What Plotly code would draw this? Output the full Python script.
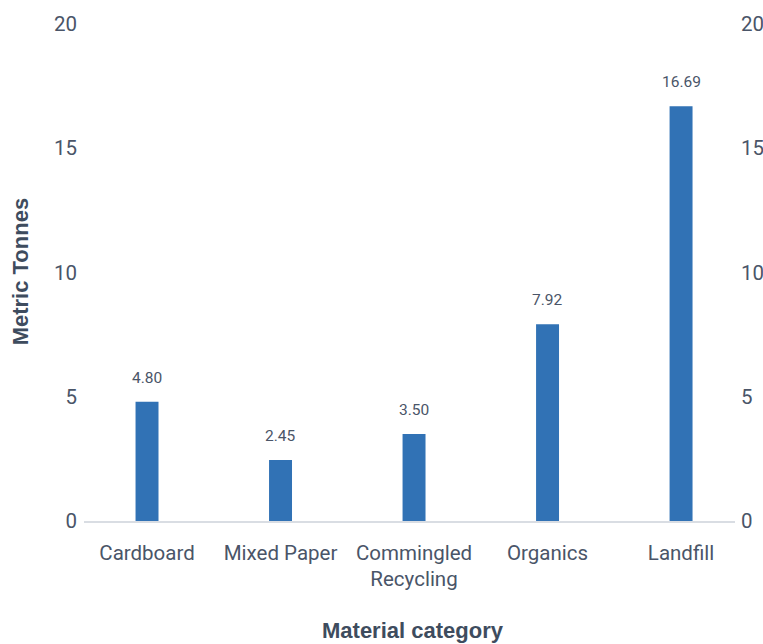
import plotly.graph_objects as go

categories = ["Cardboard", "Mixed Paper", "Commingled<br>Recycling", "Organics", "Landfill"]
tonnes = [4.80, 2.45, 3.50, 7.92, 16.69]
y_ticks = [0, 5, 10, 15, 20]

BAR = "#3172b5"
TEXT = "#4a5568"
TITLE = "#3e4c5e"
FONT = "Roboto"
TITLE_FONT = "Liberation Sans, Arial, sans-serif"

fig = go.Figure()
fig.add_trace(go.Bar(
    x=list(range(len(categories))),
    y=tonnes,
    width=0.172,
    marker=dict(color=BAR, line=dict(width=0)),
    hoverinfo="skip",
))
# invisible trace to drive the mirrored right-hand axis
fig.add_trace(go.Scatter(x=[0], y=[0], yaxis="y2", mode="markers",
                         marker=dict(opacity=0), hoverinfo="skip", showlegend=False))

# value labels above each bar
for i, v in enumerate(tonnes):
    fig.add_annotation(x=i, y=v, text=f"{v:.2f}", showarrow=False,
                       yanchor="bottom", yshift=13,
                       font=dict(family=FONT, size=15.5, color=TEXT))

fig.add_annotation(text="<b>Metric Tonnes</b>", xref="paper", yref="paper",
                   x=-0.097, y=0.502, textangle=-90, showarrow=False,
                   xanchor="center", yanchor="middle",
                   font=dict(family=TITLE_FONT, size=22, color=TITLE))
fig.add_annotation(text="<b>Material category</b>", xref="paper", yref="paper",
                   x=0.506, y=-0.221, showarrow=False,
                   xanchor="center", yanchor="middle",
                   font=dict(family=TITLE_FONT, size=22, color=TITLE))

fig.update_layout(
    width=763, height=644,
    margin=dict(l=84, r=28, t=24, b=123, autoexpand=False),
    paper_bgcolor="white", plot_bgcolor="white",
    showlegend=False,
    font=dict(family=FONT, color=TEXT),
    xaxis=dict(
        range=[-0.472, 4.404],
        tickvals=list(range(len(categories))),
        ticktext=categories,
        tickfont=dict(size=20.5, color=TEXT),
        showgrid=False, zeroline=False,
        showline=True, linecolor="#d9dde3", linewidth=2,
        ticks="", ticklabelstandoff=12, automargin=False,
    ),
    yaxis=dict(
        range=[0, 20], tickvals=y_ticks,
        tickfont=dict(size=20.5, color=TEXT),
        showgrid=False, zeroline=False, showline=False,
        ticks="", ticklabelstandoff=6, automargin=False,
    ),
    yaxis2=dict(
        range=[0, 20], tickvals=y_ticks, overlaying="y", side="right",
        tickfont=dict(size=20.5, color=TEXT),
        showgrid=False, zeroline=False, showline=False,
        ticks="", ticklabelstandoff=5, automargin=False,
    ),
)

fig.write_html("out.html")
